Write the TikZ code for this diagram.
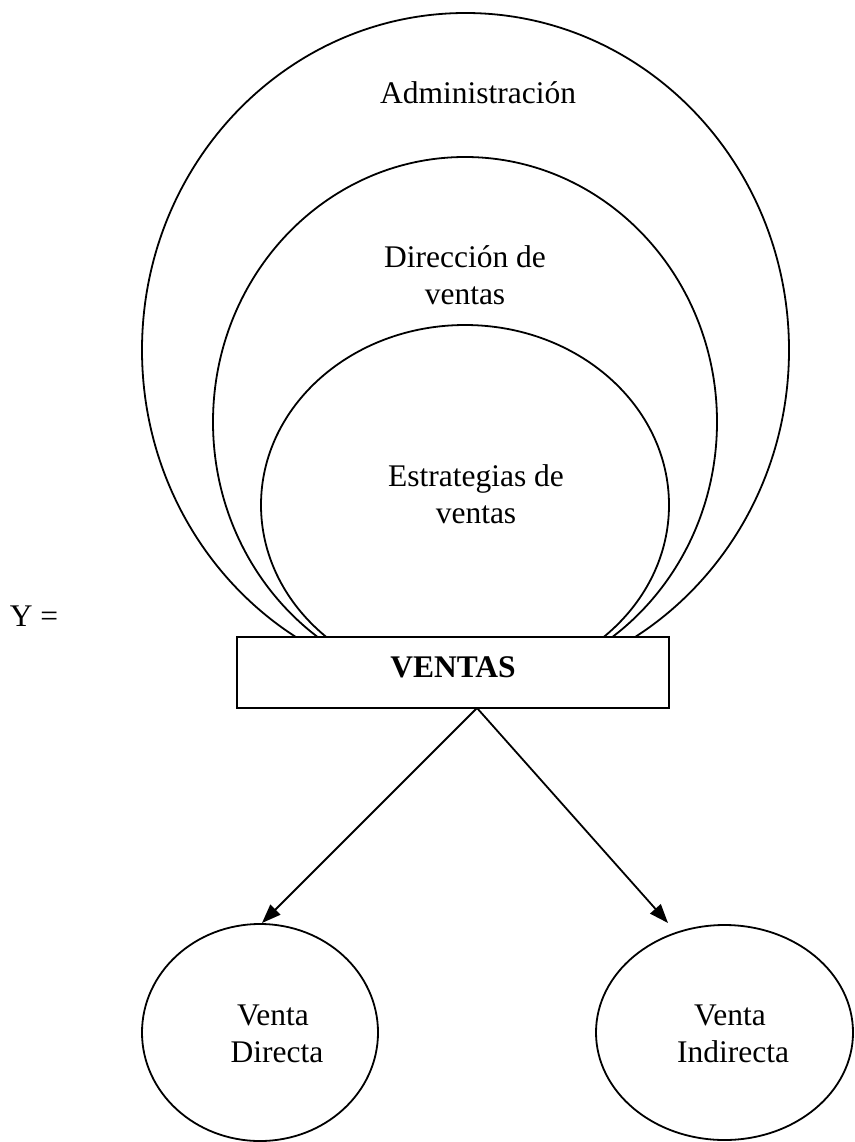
\documentclass[tikz,border=0pt]{standalone}
\usepackage{fontspec}
\setmainfont{Liberation Serif}
\usetikzlibrary{shapes.geometric,arrows.meta}
\tikzset{
  ring/.style={draw, ellipse, line width=1.8pt, inner sep=0pt},
  lbl/.style={font=\fontsize{31.5}{37}\selectfont, align=center, anchor=base, inner sep=0pt},
  box/.style={draw, line width=1.8pt, fill=white, inner sep=0pt},
  arr/.style={line width=1.8pt, -{Triangle[length=19pt,width=14pt]}}
}
\begin{document}
\begin{tikzpicture}[x=1pt,y=-1pt]
\useasboundingbox (0,0) rectangle (854,1142);
% nested ellipses
\node[ring, minimum width=647pt, minimum height=674pt] (adm) at (465.5,350) {};
\node[ring, minimum width=504pt, minimum height=530pt] (dir) at (465,422) {};
\node[ring, minimum width=408pt, minimum height=360pt] (est) at (465,505) {};
% labels
\node[lbl] (tadm) at (478,104) {Administración};
\node[lbl] (tdir1) at (465,267) {Dirección de};
\node[lbl] (tdir2) at (465,304) {ventas};
\node[lbl] (test1) at (476,486) {Estrategias de};
\node[lbl] (test2) at (476,523) {ventas};
% Y =
\node[lbl] (y) at (34,626) {Y =};
% VENTAS box
\node[box, minimum width=432pt, minimum height=71pt] (ventas) at (453,672.5) {};
\node[lbl, font=\fontsize{31.5}{37}\selectfont\bfseries] (tventas) at (453,677) {VENTAS};
% lower ellipses
\node[ring, minimum width=236pt, minimum height=217pt] (vd) at (260,1032.5) {};
\node[ring, minimum width=257pt, minimum height=215pt] (vi) at (724.5,1032.5) {};
\node[lbl] (tvd1) at (273,1025) {Venta};
\node[lbl] (tvd2) at (277,1062) {Directa};
\node[lbl] (tvi1) at (730,1025) {Venta};
\node[lbl] (tvi2) at (733,1062) {Indirecta};
% arrows
\coordinate (o) at (477,708);
\coordinate (tipl) at (262,923);
\coordinate (tipr) at (668,923);
\draw[arr] (o) -- (tipl);
\draw[arr] (o) -- (tipr);
\end{tikzpicture}
\end{document}
